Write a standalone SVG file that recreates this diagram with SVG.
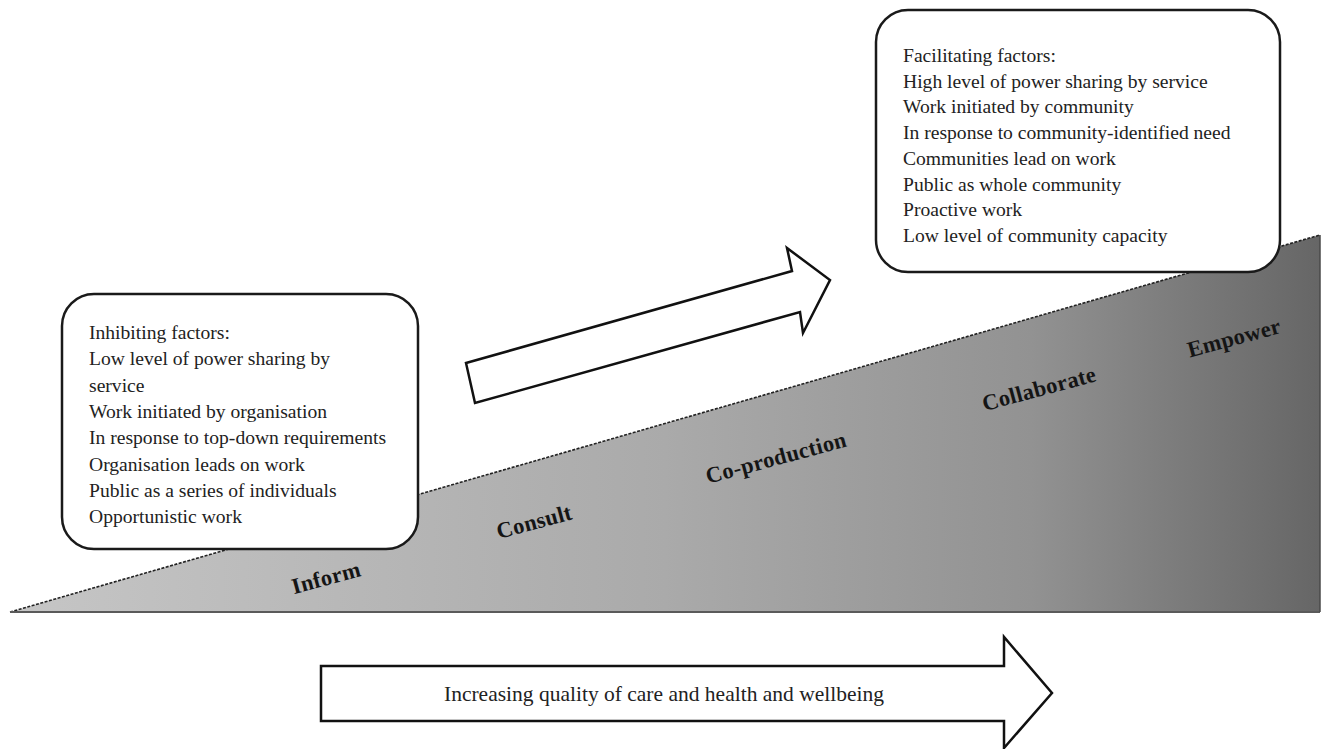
<svg xmlns="http://www.w3.org/2000/svg" width="1328" height="749" viewBox="0 0 1328 749">
  <defs>
    <linearGradient id="rampFill" gradientUnits="userSpaceOnUse" x1="10" y1="0" x2="1320" y2="0">
      <stop offset="0" stop-color="#c6c6c6"/>
      <stop offset="0.5" stop-color="#aaaaaa"/>
      <stop offset="0.78" stop-color="#929292"/>
      <stop offset="1" stop-color="#666666"/>
    </linearGradient>
    <style>
      .box { fill: #ffffff; stroke: #1a1a1a; stroke-width: 2.5; }
      .arrow { fill: #ffffff; stroke: #111111; stroke-width: 2.5; stroke-linejoin: miter; }
      .body { font-family: "Liberation Serif", "Times New Roman", serif; font-size: 19.6px; fill: #222222; }
      .stage { font-family: "Liberation Serif", "Times New Roman", serif; font-size: 22.5px; font-weight: bold; letter-spacing: 0.3px; fill: #151515; text-anchor: middle; }
      .caption { font-family: "Liberation Serif", "Times New Roman", serif; font-size: 21.5px; fill: #222222; text-anchor: middle; }
    </style>
  </defs>

  <rect width="1328" height="749" fill="#ffffff"/>

  <!-- rising ramp of engagement levels -->
  <g id="ramp">
    <polygon points="10,612 1320,235 1320,612" fill="url(#rampFill)"/>
    <line x1="10" y1="612" x2="1320" y2="235" stroke="#222222" stroke-width="1.6" stroke-dasharray="3 1.5"/>
    <line x1="10" y1="612" x2="1320" y2="612" stroke="#5a5a5a" stroke-width="2"/>
    <line x1="1320" y1="235" x2="1320" y2="612" stroke="#4a4a4a" stroke-width="1.5"/>
    <text class="stage" transform="translate(328,585) rotate(-15)">Inform</text>
    <text class="stage" transform="translate(536,529) rotate(-15)">Consult</text>
    <text class="stage" transform="translate(778,465) rotate(-15)">Co-production</text>
    <text class="stage" transform="translate(1041,396) rotate(-15)">Collaborate</text>
    <text class="stage" transform="translate(1236,345) rotate(-15)">Empower</text>
  </g>

  <!-- arrows -->
  <g id="connectors">
    <polygon class="arrow" points="466,363 792,271 787,248 830,280 803,333 800,312 475,403"/>
    <polygon class="arrow" points="321,666 1004,666 1004,637 1052,693 1004,748 1004,721 321,721"/>
  </g>

  <g id="quality-label">
    <text class="caption" x="664" y="701">Increasing quality of care and health and wellbeing</text>
  </g>

  <!-- inhibiting factors -->
  <g id="inhibiting">
    <rect class="box" x="62" y="294" width="356" height="255" rx="32" ry="32"/>
    <text class="body" x="89" y="339">
      <tspan x="89" dy="0">Inhibiting factors:</tspan>
      <tspan x="89" dy="26.3">Low level of power sharing by</tspan>
      <tspan x="89" dy="26.3">service</tspan>
      <tspan x="89" dy="26.3">Work initiated by organisation</tspan>
      <tspan x="89" dy="26.3">In response to top-down requirements</tspan>
      <tspan x="89" dy="26.3">Organisation leads on work</tspan>
      <tspan x="89" dy="26.3">Public as a series of individuals</tspan>
      <tspan x="89" dy="26.3">Opportunistic work</tspan>
    </text>
  </g>

  <!-- facilitating factors -->
  <g id="facilitating">
    <rect class="box" x="876" y="10" width="404" height="262" rx="32" ry="32"/>
    <text class="body" x="903" y="62">
      <tspan x="903" dy="0">Facilitating factors:</tspan>
      <tspan x="903" dy="25.7">High level of power sharing by service</tspan>
      <tspan x="903" dy="25.7">Work initiated by community</tspan>
      <tspan x="903" dy="25.7">In response to community-identified need</tspan>
      <tspan x="903" dy="25.7">Communities lead on work</tspan>
      <tspan x="903" dy="25.7">Public as whole community</tspan>
      <tspan x="903" dy="25.7">Proactive work</tspan>
      <tspan x="903" dy="25.7">Low level of community capacity</tspan>
    </text>
  </g>
</svg>
